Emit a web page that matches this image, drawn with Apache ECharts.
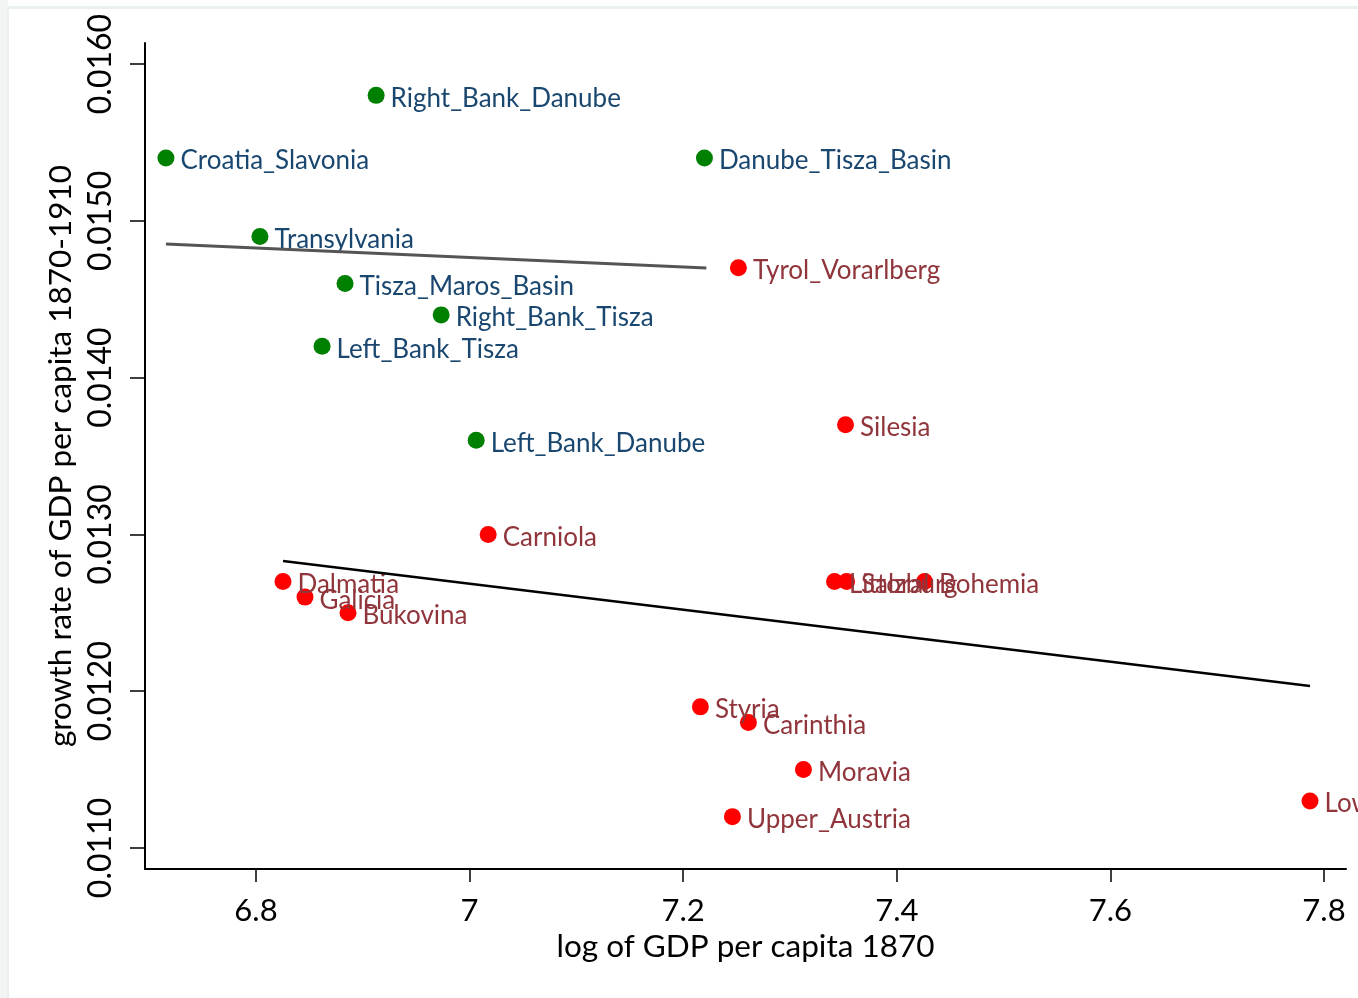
<!DOCTYPE html>
<html>
<head>
<meta charset="utf-8">
<script src="https://cdn.jsdelivr.net/npm/echarts@6/dist/echarts.min.js"></script>
<style>
  html, body { margin: 0; padding: 0; background: #fff; }
  #chart { width: 1358px; height: 998px; }
</style>
</head>
<body>
<div id="chart"></div>
<script>
// Hungarian regions (green)
const hunNames = ['Right_Bank_Danube', 'Croatia_Slavonia', 'Danube_Tisza_Basin', 'Transylvania',
  'Tisza_Maros_Basin', 'Right_Bank_Tisza', 'Left_Bank_Tisza', 'Left_Bank_Danube'];
const hunX = [6.9125, 6.7157, 7.2199, 6.8037, 6.8834, 6.9734, 6.8619, 7.0062];
const hunY = [0.0158, 0.0154, 0.0154, 0.0149, 0.0146, 0.0144, 0.0142, 0.0136];

// Austrian crown lands (red)
const ausNames = ['Tyrol_Vorarlberg', 'Silesia', 'Carniola', 'Littoral', 'Salzburg', 'Bohemia',
  'Dalmatia', 'Galicia', 'Bukovina', 'Styria', 'Carinthia', 'Moravia', 'Upper_Austria', 'Lower_Austria'];
const ausX = [7.2517, 7.352, 7.0174, 7.3417, 7.353, 7.426, 6.8253, 6.8459, 6.8862, 7.2161, 7.2611, 7.3126, 7.2461, 7.7869];
const ausY = [0.0147, 0.0137, 0.0130, 0.0127, 0.0127, 0.0127, 0.0127, 0.0126, 0.0125, 0.0119, 0.0118, 0.0115, 0.0112, 0.0113];

// fitted lines, endpoints
const hunFitX = [6.7157, 7.2217];
const hunFitY = [0.014852, 0.014699];
const ausFitX = [6.8253, 7.7869];
const ausFitY = [0.01283, 0.012033];

const xTicks = [6.8, 7, 7.2, 7.4, 7.6, 7.8];
const yTicks = [0.011, 0.012, 0.013, 0.014, 0.015, 0.016];

const pts = (names, xs, ys) => names.map((n, i) => ({ name: n, value: [xs[i], ys[i]] }));
const seg = (xs, ys) => xs.map((x, i) => [x, ys[i]]);

const font = 'Lato, "Open Sans", sans-serif';
const chart = echarts.init(document.getElementById('chart'));

const option = {
  animation: false,
  backgroundColor: '#fff',
  graphic: [
    { type: 'rect', shape: { x: 0, y: 0, width: 8, height: 998 }, style: { fill: '#f3f4f4' }, silent: true },
    { type: 'rect', shape: { x: 8, y: 6, width: 1350, height: 3 }, style: { fill: '#e9f0f0' }, silent: true },
    { type: 'rect', shape: { x: 7, y: 6, width: 2, height: 992 }, style: { fill: '#e9f0f0' }, silent: true }
  ],
  grid: { left: 145, right: 12, top: 43, bottom: 129 },
  xAxis: {
    type: 'value',
    min: 6.6961,
    max: 7.8206,
    name: 'log of GDP per capita 1870',
    nameLocation: 'middle',
    nameGap: 61,
    nameTextStyle: { fontFamily: font, fontSize: 31.5, color: '#000' },
    splitLine: { show: false },
    axisLine: { onZero: false, lineStyle: { color: '#000', width: 2 } },
    axisTick: { customValues: xTicks, length: 13, lineStyle: { color: '#000', width: 1.5 } },
    axisLabel: {
      customValues: xTicks, margin: 26, fontFamily: font, fontSize: 31, color: '#000',
      formatter: v => String(+v.toFixed(1))
    }
  },
  yAxis: {
    type: 'value',
    min: 0.010866,
    max: 0.016134,
    name: 'growth rate of GDP per capita 1870-1910',
    nameLocation: 'middle',
    nameGap: 66,
    nameRotate: 90,
    nameTextStyle: { fontFamily: font, fontSize: 31.5, color: '#000' },
    splitLine: { show: false },
    axisLine: { onZero: false, lineStyle: { color: '#000', width: 2 } },
    axisTick: { customValues: yTicks, length: 15, lineStyle: { color: '#000', width: 1.5 } },
    axisLabel: {
      customValues: yTicks, rotate: 90, margin: 28, fontFamily: font, fontSize: 32, color: '#000',
      formatter: v => v.toFixed(4)
    }
  },
  series: [
    {
      type: 'line', data: seg(hunFitX, hunFitY), symbol: 'none', silent: true,
      lineStyle: { color: '#555', width: 3 }
    },
    {
      type: 'line', data: seg(ausFitX, ausFitY), symbol: 'none', silent: true,
      lineStyle: { color: '#000', width: 2.5 }
    },
    {
      type: 'scatter', data: pts(hunNames, hunX, hunY), symbolSize: 17,
      itemStyle: { color: '#008000', opacity: 1 },
      label: {
        show: true, position: 'right', distance: 6, offset: [0, 3], formatter: '{b}',
        fontFamily: font, fontSize: 26, color: '#1a476f'
      }
    },
    {
      type: 'scatter', data: pts(ausNames, ausX, ausY), symbolSize: 17,
      itemStyle: { color: '#ff0000', opacity: 1 },
      label: {
        show: true, position: 'right', distance: 6, offset: [0, 3], formatter: '{b}',
        fontFamily: font, fontSize: 26, color: '#90353b'
      }
    }
  ]
};

option && chart.setOption(option);
</script>
</body>
</html>
